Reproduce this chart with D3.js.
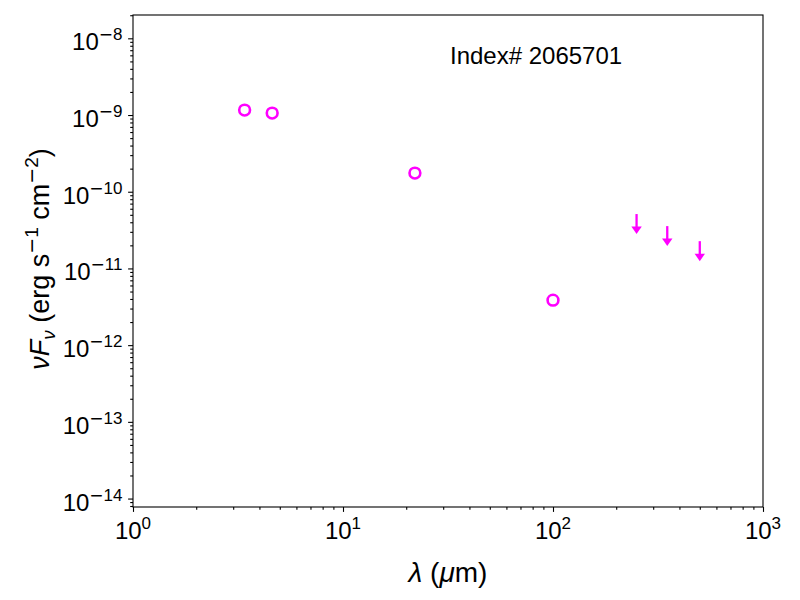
<!DOCTYPE html>
<html>
<head>
<meta charset="utf-8">
<script src="https://cdn.jsdelivr.net/npm/d3@7"></script>
<style>
  body { margin: 0; background: #fff; }
  svg { font-family: "Liberation Sans", Arial, Helvetica, sans-serif; }
</style>
</head>
<body>
<div id="chart"></div>
<script>
// photometry points (micron, erg s^-1 cm^-2)
const detWave = [3.4, 4.6, 22, 100];
const detFlux = [1.16e-9, 1.06e-9, 1.75e-10, 3.86e-12];
// upper limits
const limWave = [250, 350, 500];
const limFlux = [3.79e-11, 2.64e-11, 1.68e-11];

const xMajor = [1, 10, 100, 1000];
const xMajorExp = ["0", "1", "2", "3"];
const yMajor = [1e-14, 1e-13, 1e-12, 1e-11, 1e-10, 1e-9, 1e-8];
const yMajorExp = ["14", "13", "12", "11", "10", "9", "8"];
const labelText = "Index# 2065701";

const width = 800, height = 600;
const margin = { left: 133, right: 37, top: 15, bottom: 93 };
const plotW = width - margin.left - margin.right;
const plotH = height - margin.top - margin.bottom;
const magenta = "#ff00ff";
const mathMinus = "DejaVu Sans";

const svg = d3.select("#chart").append("svg")
    .attr("width", width)
    .attr("height", height);

const g = svg.append("g")
    .attr("transform", `translate(${margin.left},${margin.top})`);

const x = d3.scaleLog().domain([1, 1000]).range([0, plotW]);
const y = d3.scaleLog().domain([Math.pow(10, -14.11), Math.pow(10, -7.696)]).range([plotH, 0]);

// minor ticks for log axes
const minorTicks = (lo, hi) => {
    const out = [];
    for (let e = lo; e < hi; e++) {
        for (let m = 2; m <= 9; m++) out.push(m * Math.pow(10, e));
    }
    return out;
};
const xMinor = minorTicks(0, 3);
const yMinor = minorTicks(-15, -7).filter(v => v >= y.domain()[0] && v <= y.domain()[1]);

// x axis
const xAxisG = g.append("g").attr("transform", `translate(0,${plotH})`);
xAxisG.call(d3.axisBottom(x).tickValues(xMinor).tickSize(2.8).tickSizeOuter(0).tickFormat(() => ""));
xAxisG.append("g").call(d3.axisBottom(x).tickValues(xMajor).tickSize(4.9).tickSizeOuter(0).tickFormat(() => ""));
xAxisG.selectAll(".domain").remove();
xAxisG.selectAll("line").attr("stroke", "#000").attr("stroke-width", 1.1);

xMajor.forEach((v, i) => {
    const t = xAxisG.append("text")
        .attr("x", x(v))
        .attr("y", 31.5)
        .attr("text-anchor", "middle")
        .attr("font-size", 24)
        .attr("fill", "#000");
    t.append("tspan").text("10");
    t.append("tspan").attr("dy", -10).attr("font-size", 17).text(xMajorExp[i]);
});

// y axis
const yAxisG = g.append("g");
yAxisG.call(d3.axisLeft(y).tickValues(yMinor).tickSize(2.8).tickSizeOuter(0).tickFormat(() => ""));
yAxisG.append("g").call(d3.axisLeft(y).tickValues(yMajor).tickSize(4.9).tickSizeOuter(0).tickFormat(() => ""));
yAxisG.selectAll(".domain").remove();
yAxisG.selectAll("line").attr("stroke", "#000").attr("stroke-width", 1.1);

yMajor.forEach((v, i) => {
    const t = yAxisG.append("text")
        .attr("x", -10.5)
        .attr("y", y(v) + 12)
        .attr("text-anchor", "end")
        .attr("font-size", 24)
        .attr("fill", "#000");
    t.append("tspan").text("10");
    t.append("tspan").attr("dy", -10).attr("font-size", 17).attr("font-family", mathMinus).text("−");
    t.append("tspan").attr("font-size", 17).text(yMajorExp[i]);
});

// frame
g.append("rect")
    .attr("width", plotW)
    .attr("height", plotH)
    .attr("fill", "none")
    .attr("stroke", "#000")
    .attr("stroke-width", 1.1);

// detections: open circles
g.selectAll(".det")
    .data(detWave.map((w, i) => ({ w, f: detFlux[i] })))
    .join("circle")
    .attr("class", "det")
    .attr("cx", d => x(d.w))
    .attr("cy", d => y(d.f))
    .attr("r", 5.4)
    .attr("fill", "none")
    .attr("stroke", magenta)
    .attr("stroke-width", 2.6);

// upper limits: down arrows
const lims = g.selectAll(".lim")
    .data(limWave.map((w, i) => ({ w, f: limFlux[i] })))
    .join("g")
    .attr("class", "lim")
    .attr("transform", d => `translate(${x(d.w)},${y(d.f)})`);
lims.append("line")
    .attr("x1", 0).attr("x2", 0)
    .attr("y1", -10).attr("y2", 4)
    .attr("stroke", magenta)
    .attr("stroke-width", 2.3);
lims.append("path")
    .attr("d", "M-5.2,2.5 L5.2,2.5 L0,10 Z")
    .attr("fill", magenta);

// annotation
g.append("text")
    .attr("x", 317)
    .attr("y", 49)
    .attr("font-size", 24)
    .attr("fill", "#000")
    .text(labelText);

// x label
const xl = svg.append("text")
    .attr("x", margin.left + plotW / 2)
    .attr("y", 582)
    .attr("text-anchor", "middle")
    .attr("font-size", 28)
    .attr("fill", "#000");
xl.append("tspan").attr("font-style", "italic").text("λ");
xl.append("tspan").text(" (");
xl.append("tspan").attr("font-style", "italic").text("μ");
xl.append("tspan").text("m)");

// y label
const yl = svg.append("text")
    .attr("transform", `translate(49,${margin.top + plotH / 2 - 2}) rotate(-90)`)
    .attr("text-anchor", "middle")
    .attr("font-size", 27)
    .attr("fill", "#000");
yl.append("tspan").attr("font-style", "italic").text("νF");
yl.append("tspan").attr("font-style", "italic").attr("font-size", 19).attr("dy", 6).text("ν");
yl.append("tspan").attr("dy", -6).text(" (erg s");
yl.append("tspan").attr("font-size", 19).attr("dy", -11).attr("font-family", mathMinus).text("−");
yl.append("tspan").attr("font-size", 19).text("1");
yl.append("tspan").attr("dy", 11).text(" cm");
yl.append("tspan").attr("font-size", 19).attr("dy", -11).attr("font-family", mathMinus).text("−");
yl.append("tspan").attr("font-size", 19).text("2");
yl.append("tspan").attr("dy", 11).text(")");
</script>
</body>
</html>
